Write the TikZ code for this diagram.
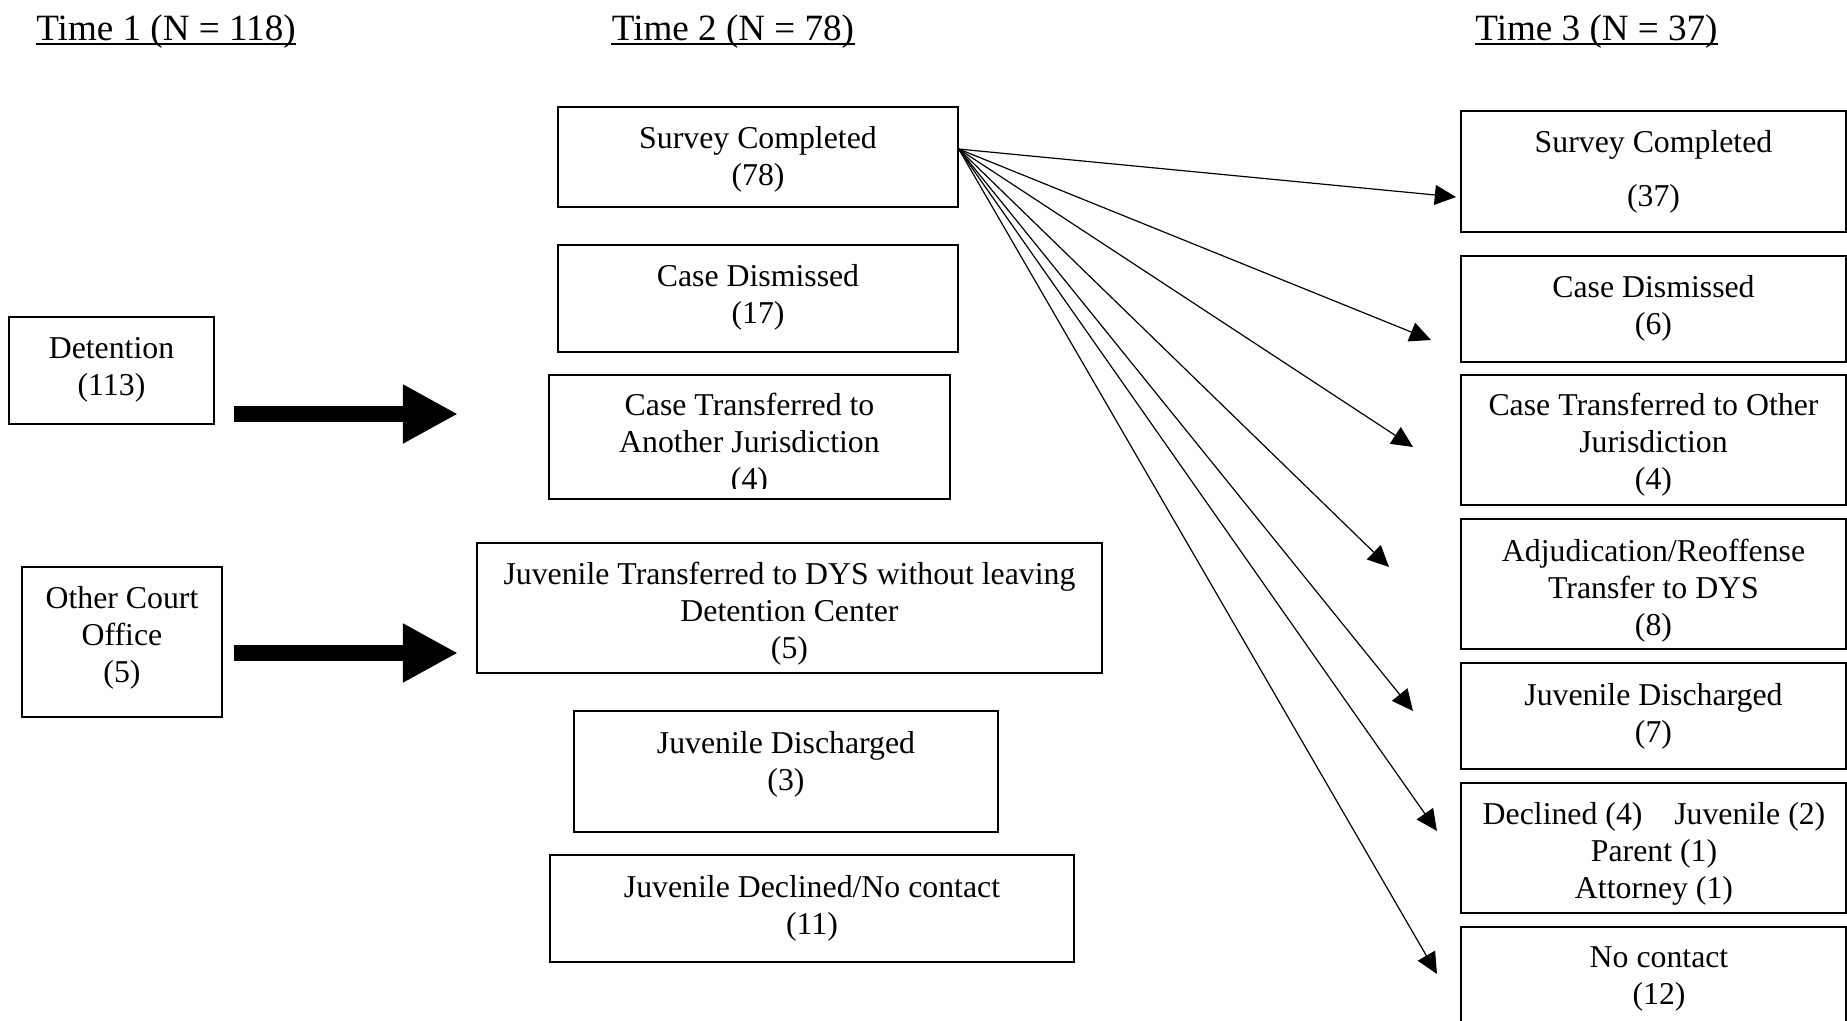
\documentclass[tikz,border=0pt]{standalone}
\usepackage{fontspec}
\setmainfont{Liberation Serif}
\usetikzlibrary{arrows.meta,fit}
\begin{document}
\begin{tikzpicture}[x=0.3774pt, y=-0.3774pt,
  box/.style={draw, line width=0.55pt, inner sep=0pt},
  txt/.style={align=center, inner sep=0pt, yshift=-0.55pt, font=\fontsize{12}{14}\selectfont},
  head/.style={inner sep=0pt, font=\fontsize{14}{16}\selectfont, anchor=base},
  uline/.style={line width=0.75pt},
  thinarrow/.style={line width=0.45pt, -{Triangle[length=8pt,width=7.5pt]}},
  fatarrow/.style={line width=6pt, -{Triangle[length=20.8pt,width=20.8pt]}}]
\useasboundingbox (0,0) rectangle (1847,1021);
\clip (0,0) rectangle (1847,1021);

% headings
\node[head] (h1) at (166,41) {Time 1 (N = 118)};
\node[head] (h2) at (733,41) {Time 2 (N = 78)};
\node[head] (h3) at (1596.5,41) {Time 3 (N = 37)};
\foreach \h in {h1,h2,h3}
  \draw[uline] ([yshift=-1.2pt]\h.base west) -- ([yshift=-1.2pt]\h.base east);

% Time 1 boxes
\node[box, fit={(9,317) (214,424)}] (l1) {};
\node[txt] (l1t) at (111.5,368.5) {Detention\strut\\(113)\strut};
\node[box, fit={(22,567) (222,717)}] (l2) {};
\node[txt] (l2t) at (122,636.5) {Other Court\strut\\Office\strut\\(5)\strut};

% Time 2 boxes
\node[box, fit={(558,107) (958,207)}] (m1) {};
\node[txt] (m1t) at (758,158.5) {Survey Completed\strut\\(78)\strut};
\node[box, fit={(558,245) (958,352)}] (m2) {};
\node[txt] (m2t) at (758,296.5) {Case Dismissed\strut\\(17)\strut};
\node[box, fit={(549,375) (950,499)}] (m3) {};
\begin{scope}
  \clip (549,375) rectangle (950,488);
  \node[txt] (m3t) at (749.5,443.5) {Case Transferred to\strut\\Another Jurisdiction\strut\\(4)\strut};
\end{scope}
\node[box, fit={(477,543) (1102,673)}] (m4) {};
\node[txt] (m4t) at (789.5,612.5) {Juvenile Transferred to DYS without leaving\strut\\Detention Center\strut\\(5)\strut};
\node[box, fit={(574,711) (998,832)}] (m5) {};
\node[txt] (m5t) at (786,763) {Juvenile Discharged\strut\\(3)\strut};
\node[box, fit={(550,855) (1074,962)}] (m6) {};
\node[txt] (m6t) at (812,907) {Juvenile Declined/No contact\strut\\(11)\strut};

% Time 3 boxes
\node[box, fit={(1461,111) (1846,232)}] (r1) {};
\node[txt] (r1t) at (1653.5,171) {Survey Completed\strut\\[6.4pt](37)\strut};
\node[box, fit={(1461,256) (1846,362)}] (r2) {};
\node[txt] (r2t) at (1653.5,307.5) {Case Dismissed\strut\\(6)\strut};
\node[box, fit={(1461,375) (1846,505)}] (r3) {};
\node[txt] (r3t) at (1653.5,444) {Case Transferred to Other\strut\\Jurisdiction\strut\\(4)\strut};
\node[box, fit={(1461,519) (1846,649)}] (r4) {};
\node[txt] (r4t) at (1653.5,589.5) {Adjudication/Reoffense\strut\\Transfer to DYS\strut\\(8)\strut};
\node[box, fit={(1461,663) (1846,769)}] (r5) {};
\node[txt] (r5t) at (1653.5,715.5) {Juvenile Discharged\strut\\(7)\strut};
\node[box, fit={(1461,783) (1846,913)}] (r6) {};
\node[txt] (r6t) at (1654,853) {Declined (4)\hspace*{12pt}Juvenile (2)\strut\\Parent (1)\strut\\Attorney (1)\strut};
\node[box, fit={(1461,927) (1846,1060)}] (r7) {};
\node[txt] (r7t) at (1659,977.5) {No contact\strut\\(12)\strut};

% thick arrows (free ends)
\coordinate (a1s) at (234,414);
\coordinate (a1e) at (458,414);
\coordinate (a2s) at (234,653);
\coordinate (a2e) at (458,653);
\draw[fatarrow] (a1s) -- (a1e);
\draw[fatarrow] (a2s) -- (a2e);

% fan of arrows from Survey Completed (78)
\coordinate (src) at ([yshift=3pt]m1.east);
\coordinate (t1) at (1456,197);
\coordinate (t2) at (1431,340);
\coordinate (t3) at (1413,447);
\coordinate (t4) at (1389,567);
\coordinate (t5) at (1413,711);
\coordinate (t6) at (1437,831);
\coordinate (t7) at (1437,974);
\foreach \t in {t1,t2,t3,t4,t5,t6,t7}
  \draw[thinarrow] (src) -- (\t);
\end{tikzpicture}
\end{document}
